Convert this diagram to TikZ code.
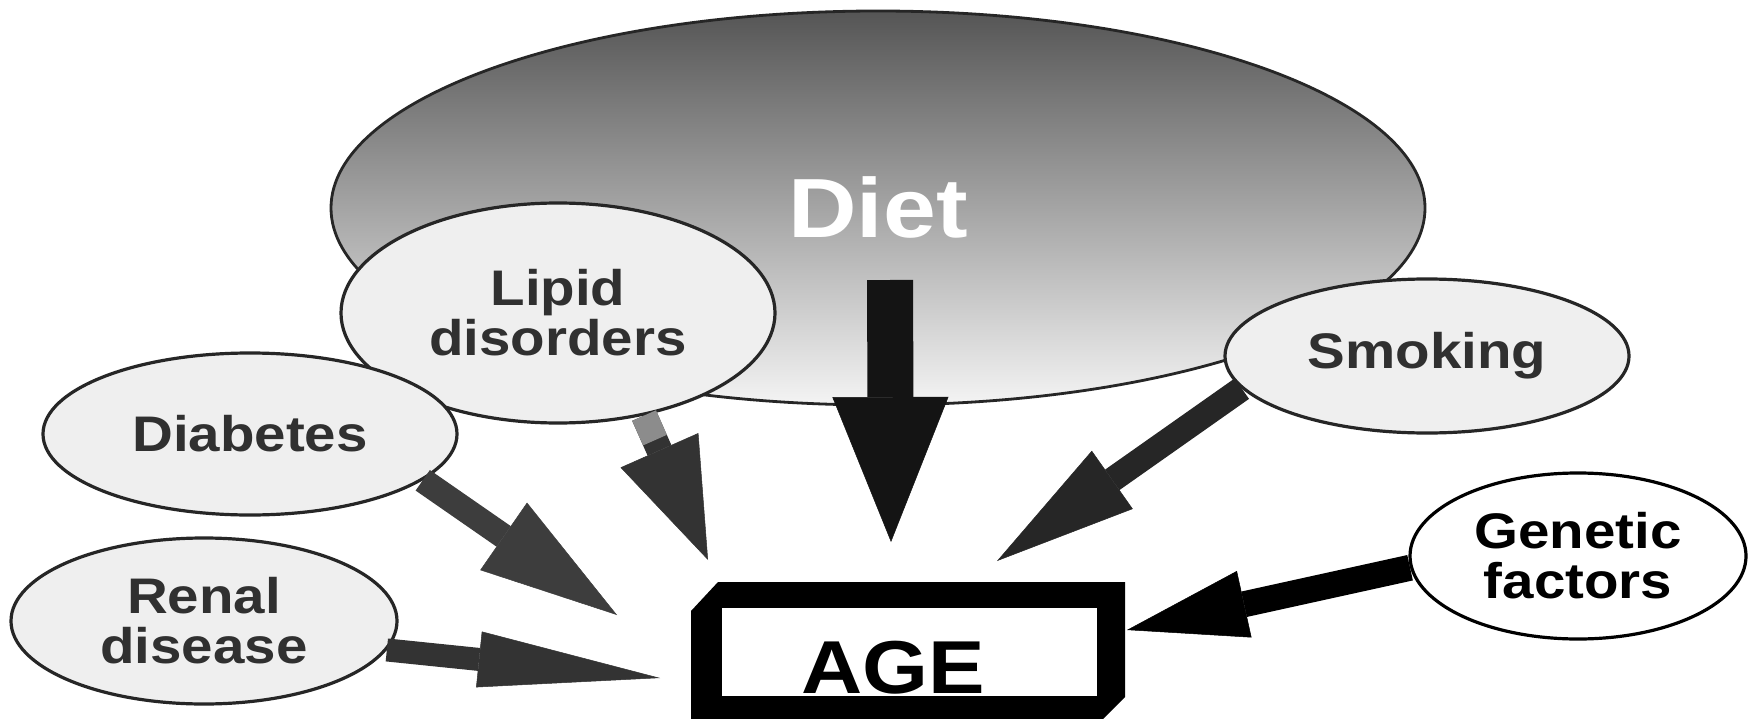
\documentclass[tikz,border=0pt]{standalone}
\usepackage{fontspec}
\setmainfont[FakeStretch=1.13]{Liberation Sans}
\usetikzlibrary{arrows.meta,shapes.geometric,calc}
\definecolor{ellfill}{HTML}{EFEFEF}
\definecolor{ellline}{HTML}{262626}
\definecolor{txtgray}{HTML}{303030}
\definecolor{arrgray}{HTML}{333333}
\definecolor{fadegray}{HTML}{8C8C8C}
\definecolor{dietTop}{HTML}{555555}
\definecolor{dietMid}{HTML}{A0A0A0}
\definecolor{dietBot}{HTML}{F4F4F4}
\begin{document}
\begin{tikzpicture}[x=1pt,y=-1pt,
  bubble/.style={ellipse, draw=ellline, line width=3.2pt, fill=ellfill, text=txtgray,
    font=\fontsize{50}{50}\selectfont\bfseries, align=center, inner sep=0pt},
  dietbubble/.style={ellipse, draw=ellline, line width=2.8pt, top color=dietTop,
    middle color=dietMid, bottom color=dietBot, text=white,
    font=\fontsize{84}{84}\selectfont\bfseries, inner sep=0pt},
  genebubble/.style={bubble, draw=black, fill=white, text=black},
  bigarrow/.style n args={3}{draw=arrgray, line width=#1,
    -{Triangle[length=#2, width=#3, line width=0.5pt]}},
]
\useasboundingbox (0,0) rectangle (1752,719);
\fill[white] (0,0) rectangle (1752,719);

% nodes
\node[dietbubble, minimum width=1094pt, minimum height=394pt] (diet) at (878,208) {\raisebox{2pt}{Diet}};
\node[bubble, minimum width=404pt, minimum height=154pt] (smoking) at (1427,356) {Smoking};
\node[bubble, minimum width=434pt, minimum height=220pt] (lipid) at (558,313) {Lipid\\disorders};
\node[bubble, minimum width=414pt, minimum height=162pt] (diabetes) at (250,434) {Diabetes};
\node[bubble, minimum width=386pt, minimum height=166pt] (renal) at (204,621) {Renal\\disease};
\node[genebubble, minimum width=336pt, minimum height=166pt] (genetic) at (1578,556) {Genetic\\factors};

% arrow tips
\coordinate (tipD) at (891,542);
\coordinate (tipL) at (708,560);
\coordinate (tipDb) at (617,615);
\coordinate (tipR) at (660,678);
\coordinate (tipS) at (997,561);
\coordinate (tipG) at (1127,630);

% arrows
\draw[bigarrow={46pt}{145pt}{116pt}, draw=black!92, fill=black!92] ([xshift=12pt,yshift=-72pt]diet.center) -- (tipD);
\draw[bigarrow={26pt}{120pt}{85pt}, draw=arrgray, fill=arrgray] (lipid.310.8) -- (tipL);
\draw[line width=26pt, fadegray] (lipid.310.8) -- ($(lipid.310.8)!0.17!(tipL)$);
\draw[bigarrow={25pt}{138pt}{82pt}, draw=arrgray!95!white, fill=arrgray!95!white] (diabetes.345.5) -- (tipDb);
\draw[bigarrow={23pt}{182pt}{56pt}, draw=arrgray, fill=arrgray] (renal.351) -- (tipR);
\draw[bigarrow={25pt}{141pt}{71pt}, draw=black!85, fill=black!85] (smoking.190.5) -- (tipS);
\draw[bigarrow={26pt}{120pt}{68pt}, draw=black, fill=black] (genetic.184.8) -- (tipG);

% AGE box
\fill[black] (691,611) -- (718,582) -- (1125,582) -- (1125,697) -- (1100,722) -- (691,722) -- cycle;
\fill[white] (722,608) rectangle (1097,696);
\node[anchor=base, inner sep=0pt, text=black, font=\fontsize{75}{75}\selectfont\bfseries] (age) at (893,693) {AGE};
\end{tikzpicture}
\end{document}
